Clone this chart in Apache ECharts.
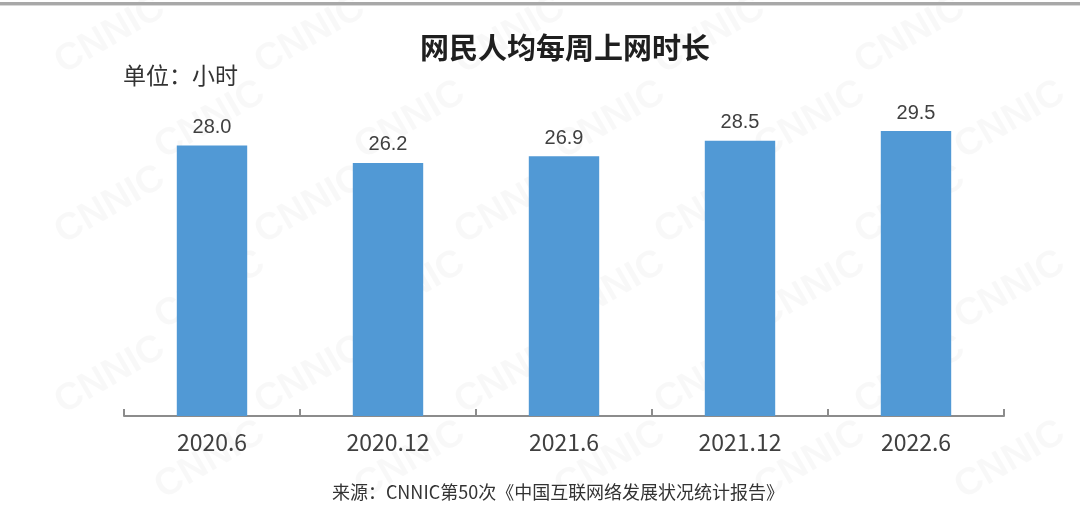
<!DOCTYPE html>
<html>
<head>
<meta charset="utf-8">
<script src="https://cdn.jsdelivr.net/npm/echarts@6/dist/echarts.min.js"></script>
<style>
html,body{margin:0;padding:0;background:#fff;}
#c{width:1080px;height:515px;}
</style>
</head>
<body>
<div id="c"></div>
<script>
const categories = ['2020.6', '2020.12', '2021.6', '2021.12', '2022.6'];
const hoursPerWeek = [28.0, 26.2, 26.9, 28.5, 29.5];
const titleText = '网民人均每周上网时长';
const unitText = '单位：小时';
const sourceText = '来源：CNNIC第50次《中国互联网络发展状况统计报告》';

const chart = echarts.init(document.getElementById('c'));

// watermark decorations
const marks = [];
for (let r = 0; r < 6; r++) {
  for (let k = 0; k < 6; k++) {
    const x = 110 + k * 200 + (r % 2) * 100;
    const y = 35 + r * 85;
    if (x > 1030 || y > 460) continue;
    marks.push({
      type: 'text', x: x, y: y, rotation: Math.PI / 6, silent: true, z: -10,
      style: { text: 'CNNIC', fill: 'rgba(0,0,0,0.028)', font: 'bold 38px "Liberation Sans", Arial', textAlign: 'center', textVerticalAlign: 'middle' }
    });
  }
}

chart.setOption({
  animation: false,
  backgroundColor: '#fff',
  title: {
    text: titleText, left: 560, top: 28, textAlign: 'center',
    textStyle: { fontFamily: '"Noto Sans CJK SC"', fontSize: 29, fontWeight: 'bold', color: '#1f1f1f' }
  },
  graphic: [
    { type: 'rect', shape: { x: 0, y: 2, width: 1080, height: 3 }, style: { fill: '#a8a8a8' }, silent: true },
    { type: 'rect', shape: { x: 0, y: 5, width: 1080, height: 1 }, style: { fill: '#d8d8d8' }, silent: true },
    { type: 'text', x: 123, y: 75, style: { text: unitText, fill: '#333', font: '23px "Noto Sans CJK SC"', textVerticalAlign: 'middle' } },
    { type: 'text', x: 558, y: 492, style: { text: sourceText, fill: '#333', font: '18px "Noto Sans CJK SC"', textAlign: 'center', textVerticalAlign: 'middle' } }
  ].concat(marks),
  grid: { left: 124, right: 76, top: 78, bottom: 99 },
  xAxis: {
    type: 'category', data: categories,
    axisLine: { show: true, lineStyle: { color: '#8c8c8c', width: 2 } },
    axisTick: { show: true, inside: true, interval: 0, length: 7, lineStyle: { color: '#8c8c8c', width: 2 } },
    axisLabel: { color: '#404040', fontSize: 23, fontFamily: '"Noto Sans CJK SC"', margin: 15 }
  },
  yAxis: { type: 'value', min: 0, max: 35, show: false, splitLine: { show: false } },
  series: [{
    type: 'bar', data: hoursPerWeek, barWidth: '40%',
    itemStyle: { color: '#5199d5' },
    label: {
      show: true, position: 'top', distance: 8, color: '#404040', fontSize: 20,
      fontFamily: '"Liberation Sans", Arial',
      formatter: p => p.value.toFixed(1)
    }
  }]
});
</script>
</body>
</html>
